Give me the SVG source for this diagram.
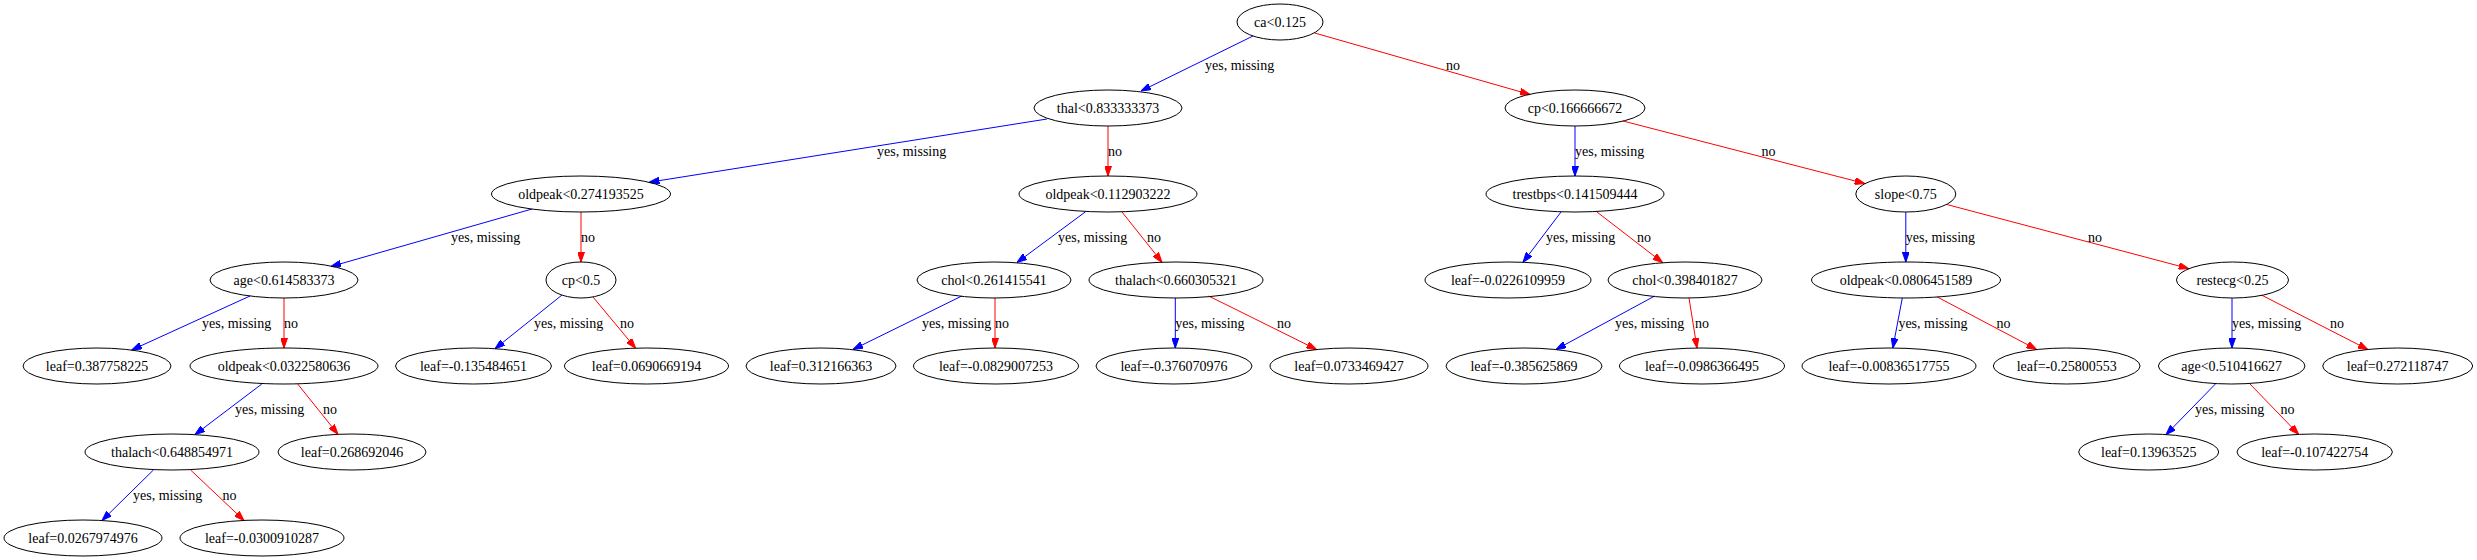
<svg xmlns="http://www.w3.org/2000/svg" width="2477" height="560" viewBox="0 0 2477 560">
<defs>
<style>
.n ellipse{fill:none;stroke:#000;stroke-width:1}
.n text{font-family:"Liberation Serif","Times New Roman",serif;font-size:14px;text-anchor:middle;fill:#000}
.e path{fill:none;stroke-width:1}
.y path{stroke:#0000ff;marker-end:url(#ab)}
.r path{stroke:#ff0000;marker-end:url(#ar)}
.lbl{font-family:"Liberation Serif","Times New Roman",serif;font-size:14px;fill:#000}
</style>
<marker id="ab" markerUnits="userSpaceOnUse" markerWidth="10" markerHeight="7" viewBox="0 0 10 7" refX="10" refY="3.5" orient="auto"><path d="M0,0L10,3.5L0,7z" fill="#0000ff" stroke="#0000ff"/></marker>
<marker id="ar" markerUnits="userSpaceOnUse" markerWidth="10" markerHeight="7" viewBox="0 0 10 7" refX="10" refY="3.5" orient="auto"><path d="M0,0L10,3.5L0,7z" fill="#ff0000" stroke="#ff0000"/></marker>
</defs>
<rect width="2477" height="560" fill="#fff"/>
<g id="connectors" class="e">
<g class="y"><path d="M1253,36L1141,91"/></g><text class="lbl" x="1205" y="69.5">yes, missing</text>
<g class="r"><path d="M1314.7,33L1530,94.5"/></g><text class="lbl" x="1446" y="69.5">no</text>
<g class="y"><path d="M1047,119L649.4,182.2"/></g><text class="lbl" x="877" y="155.5">yes, missing</text>
<g class="r"><path d="M1108,126L1108,176"/></g><text class="lbl" x="1108" y="155.5">no</text>
<g class="y"><path d="M1575,126L1575,176"/></g><text class="lbl" x="1575" y="155.5">yes, missing</text>
<g class="r"><path d="M1623,121L1864.8,183.5"/></g><text class="lbl" x="1761.5" y="155.5">no</text>
<g class="y"><path d="M532,209L331,266.5"/></g><text class="lbl" x="451" y="241.5">yes, missing</text>
<g class="r"><path d="M581,212L581,262"/></g><text class="lbl" x="581" y="241.5">no</text>
<g class="y"><path d="M1085.6,211.7L1017,262.5"/></g><text class="lbl" x="1058" y="241.5">yes, missing</text>
<g class="r"><path d="M1122,212L1162,262.2"/></g><text class="lbl" x="1147" y="241.5">no</text>
<g class="y"><path d="M1561,212L1523,262.3"/></g><text class="lbl" x="1546" y="241.5">yes, missing</text>
<g class="r"><path d="M1597,212L1662.6,262.6"/></g><text class="lbl" x="1637" y="241.5">no</text>
<g class="y"><path d="M1905.8,212L1905.8,262"/></g><text class="lbl" x="1905.8" y="241.5">yes, missing</text>
<g class="r"><path d="M1946.8,204.5L2188.6,268.5"/></g><text class="lbl" x="2088" y="241.5">no</text>
<g class="y"><path d="M250,296L131.7,350"/></g><text class="lbl" x="202" y="327.5">yes, missing</text>
<g class="r"><path d="M284,298L284,348"/></g><text class="lbl" x="284" y="327.5">no</text>
<g class="y"><path d="M562,295L495,348.7"/></g><text class="lbl" x="534" y="327.5">yes, missing</text>
<g class="r"><path d="M593,297L635.6,348.2"/></g><text class="lbl" x="620" y="327.5">no</text>
<g class="y"><path d="M961.8,296L853,349.5"/></g><text class="lbl" x="922" y="327.5">yes, missing</text>
<g class="r"><path d="M995,298L995,348"/></g><text class="lbl" x="995" y="327.5">no</text>
<g class="y"><path d="M1175.3,298L1175.3,348"/></g><text class="lbl" x="1175.3" y="327.5">yes, missing</text>
<g class="r"><path d="M1208.7,296L1316.6,349.5"/></g><text class="lbl" x="1277" y="327.5">no</text>
<g class="y"><path d="M1654.7,296L1556,349.5"/></g><text class="lbl" x="1615" y="327.5">yes, missing</text>
<g class="r"><path d="M1689,298L1697,348"/></g><text class="lbl" x="1695" y="327.5">no</text>
<g class="y"><path d="M1902.3,298L1892.8,348"/></g><text class="lbl" x="1898.4" y="327.5">yes, missing</text>
<g class="r"><path d="M1937.3,297L2036.6,349.5"/></g><text class="lbl" x="1996.5" y="327.5">no</text>
<g class="y"><path d="M2232,298L2232,348"/></g><text class="lbl" x="2232" y="327.5">yes, missing</text>
<g class="r"><path d="M2262,295.3L2367.8,349.5"/></g><text class="lbl" x="2330" y="327.5">no</text>
<g class="y"><path d="M261.8,384L195,434.6"/></g><text class="lbl" x="235" y="413.5">yes, missing</text>
<g class="r"><path d="M297.7,384L338,434.3"/></g><text class="lbl" x="323" y="413.5">no</text>
<g class="y"><path d="M2215.4,384L2166,434.6"/></g><text class="lbl" x="2195" y="413.5">yes, missing</text>
<g class="r"><path d="M2250,384L2298.7,434.4"/></g><text class="lbl" x="2280.6" y="413.5">no</text>
<g class="y"><path d="M153.4,470L102,520.5"/></g><text class="lbl" x="133" y="499.5">yes, missing</text>
<g class="r"><path d="M190.6,470L244,520.4"/></g><text class="lbl" x="222.6" y="499.5">no</text>
</g>
<g id="n0" class="n"><ellipse cx="1280" cy="22" rx="43" ry="18"/><text x="1280" y="26.5">ca&lt;0.125</text></g>
<g id="n1" class="n"><ellipse cx="1108" cy="108" rx="74" ry="18"/><text x="1108" y="112.5">thal&lt;0.833333373</text></g>
<g id="n2" class="n"><ellipse cx="1575" cy="108" rx="70" ry="18"/><text x="1575" y="112.5">cp&lt;0.166666672</text></g>
<g id="n3" class="n"><ellipse cx="581" cy="194" rx="89.5" ry="18"/><text x="581" y="198.5">oldpeak&lt;0.274193525</text></g>
<g id="n4" class="n"><ellipse cx="1108" cy="194" rx="89" ry="18"/><text x="1108" y="198.5">oldpeak&lt;0.112903222</text></g>
<g id="n5" class="n"><ellipse cx="1575" cy="194" rx="89" ry="18"/><text x="1575" y="198.5">trestbps&lt;0.141509444</text></g>
<g id="n6" class="n"><ellipse cx="1905.8" cy="194" rx="50" ry="18"/><text x="1905.8" y="198.5">slope&lt;0.75</text></g>
<g id="n7" class="n"><ellipse cx="284" cy="280" rx="74" ry="18"/><text x="284" y="284.5">age&lt;0.614583373</text></g>
<g id="n8" class="n"><ellipse cx="581" cy="280" rx="35" ry="18"/><text x="581" y="284.5">cp&lt;0.5</text></g>
<g id="n9" class="n"><ellipse cx="994" cy="280" rx="77" ry="18"/><text x="994" y="284.5">chol&lt;0.261415541</text></g>
<g id="n10" class="n"><ellipse cx="1176" cy="280" rx="87" ry="18"/><text x="1176" y="284.5">thalach&lt;0.660305321</text></g>
<g id="n11" class="n"><ellipse cx="1508" cy="280" rx="83" ry="18"/><text x="1508" y="284.5">leaf=-0.0226109959</text></g>
<g id="n12" class="n"><ellipse cx="1685" cy="280" rx="77" ry="18"/><text x="1685" y="284.5">chol&lt;0.398401827</text></g>
<g id="n13" class="n"><ellipse cx="1906" cy="280" rx="94.5" ry="18"/><text x="1906" y="284.5">oldpeak&lt;0.0806451589</text></g>
<g id="n14" class="n"><ellipse cx="2232.5" cy="280" rx="56" ry="18"/><text x="2232.5" y="284.5">restecg&lt;0.25</text></g>
<g id="n15" class="n"><ellipse cx="97" cy="366" rx="74" ry="18"/><text x="97" y="370.5">leaf=0.387758225</text></g>
<g id="n16" class="n"><ellipse cx="284" cy="366" rx="94" ry="18"/><text x="284" y="370.5">oldpeak&lt;0.0322580636</text></g>
<g id="n17" class="n"><ellipse cx="473.5" cy="366" rx="78" ry="18"/><text x="473.5" y="370.5">leaf=-0.135484651</text></g>
<g id="n18" class="n"><ellipse cx="646.5" cy="366" rx="82" ry="18"/><text x="646.5" y="370.5">leaf=0.0690669194</text></g>
<g id="n19" class="n"><ellipse cx="821" cy="366" rx="75" ry="18"/><text x="821" y="370.5">leaf=0.312166363</text></g>
<g id="n20" class="n"><ellipse cx="996" cy="366" rx="82.5" ry="18"/><text x="996" y="370.5">leaf=-0.0829007253</text></g>
<g id="n21" class="n"><ellipse cx="1174" cy="366" rx="78" ry="18"/><text x="1174" y="370.5">leaf=-0.376070976</text></g>
<g id="n22" class="n"><ellipse cx="1349" cy="366" rx="79" ry="18"/><text x="1349" y="370.5">leaf=0.0733469427</text></g>
<g id="n23" class="n"><ellipse cx="1524" cy="366" rx="78" ry="18"/><text x="1524" y="370.5">leaf=-0.385625869</text></g>
<g id="n24" class="n"><ellipse cx="1702" cy="366" rx="82.5" ry="18"/><text x="1702" y="370.5">leaf=-0.0986366495</text></g>
<g id="n25" class="n"><ellipse cx="1889" cy="366" rx="87" ry="18"/><text x="1889" y="370.5">leaf=-0.00836517755</text></g>
<g id="n26" class="n"><ellipse cx="2066.7" cy="366" rx="73.4" ry="18"/><text x="2066.7" y="370.5">leaf=-0.25800553</text></g>
<g id="n27" class="n"><ellipse cx="2231.7" cy="366" rx="73.3" ry="18"/><text x="2231.7" y="370.5">age&lt;0.510416627</text></g>
<g id="n28" class="n"><ellipse cx="2397.7" cy="366" rx="75" ry="18"/><text x="2397.7" y="370.5">leaf=0.272118747</text></g>
<g id="n29" class="n"><ellipse cx="172" cy="452" rx="87" ry="18"/><text x="172" y="456.5">thalach&lt;0.648854971</text></g>
<g id="n30" class="n"><ellipse cx="352" cy="452" rx="74" ry="18"/><text x="352" y="456.5">leaf=0.268692046</text></g>
<g id="n31" class="n"><ellipse cx="2148.7" cy="452" rx="70" ry="18"/><text x="2148.7" y="456.5">leaf=0.13963525</text></g>
<g id="n32" class="n"><ellipse cx="2314.7" cy="452" rx="77.7" ry="18"/><text x="2314.7" y="456.5">leaf=-0.107422754</text></g>
<g id="n33" class="n"><ellipse cx="83" cy="538" rx="79" ry="18"/><text x="83" y="542.5">leaf=0.0267974976</text></g>
<g id="n34" class="n"><ellipse cx="262" cy="538" rx="82" ry="18"/><text x="262" y="542.5">leaf=-0.0300910287</text></g>
</svg>
